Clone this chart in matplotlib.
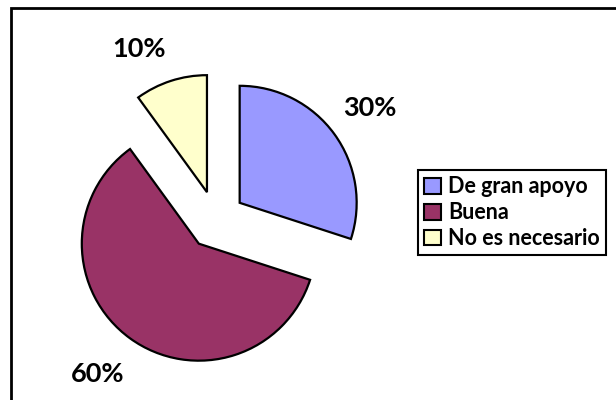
import matplotlib.pyplot as plt
from matplotlib.patches import Rectangle

categorias = ['De gran apoyo', 'Buena', 'No es necesario']
valores = [30, 60, 10]
colores = ['#9999FF', '#993366', '#FFFFCC']

plt.rcParams['font.family'] = ['Lato', 'DejaVu Sans']

fig = plt.figure(figsize=(6.16, 4.0), dpi=100)
ax = fig.add_axes([0, 0, 1, 1])

wedges, texts, autotexts = ax.pie(
    valores, colors=colores, startangle=90, counterclock=False,
    explode=[0.25] * len(valores), autopct='%1.0f%%', pctdistance=1.38,
    wedgeprops=dict(edgecolor='black', linewidth=1.6))
for t in autotexts:
    t.set_fontsize(19.5)
    t.set_fontweight('bold')
    t.set_color('black')

# la etiqueta del 10% queda un poco más a la izquierda y abajo
x10, y10 = autotexts[2].get_position()
autotexts[2].set_position((x10 - 0.15, y10 - 0.09))
x60, y60 = autotexts[1].get_position()
autotexts[1].set_position((x60 - 0.05, y60))

# centro de la torta en (216, 220) px, radio 117 px
r = 117.0
ax.set_xlim(-216 / r, (616 - 216) / r)
ax.set_ylim(-(400 - 220) / r, 220 / r)
ax.set_aspect('equal')
ax.axis('off')

leg = ax.legend(wedges, categorias, loc='upper left',
                bbox_to_anchor=(418 / 616, 1 - 170 / 400),
                bbox_transform=fig.transFigure, borderaxespad=0,
                fancybox=False, edgecolor='black', framealpha=1,
                prop={'weight': 'bold', 'size': 15.5},
                handlelength=0.75, handleheight=0.75, handletextpad=0.35,
                labelspacing=0.22, borderpad=0.3)
leg.get_frame().set_linewidth(1.5)
for h in leg.legend_handles:
    h.set_linewidth(1.5)

fig.patches.append(Rectangle((11 / 616, -0.1), 1.2, 0.98 + 0.1,
                             transform=fig.transFigure, fill=False,
                             edgecolor='black', linewidth=2))

fig.savefig('out.png', dpi=100)
